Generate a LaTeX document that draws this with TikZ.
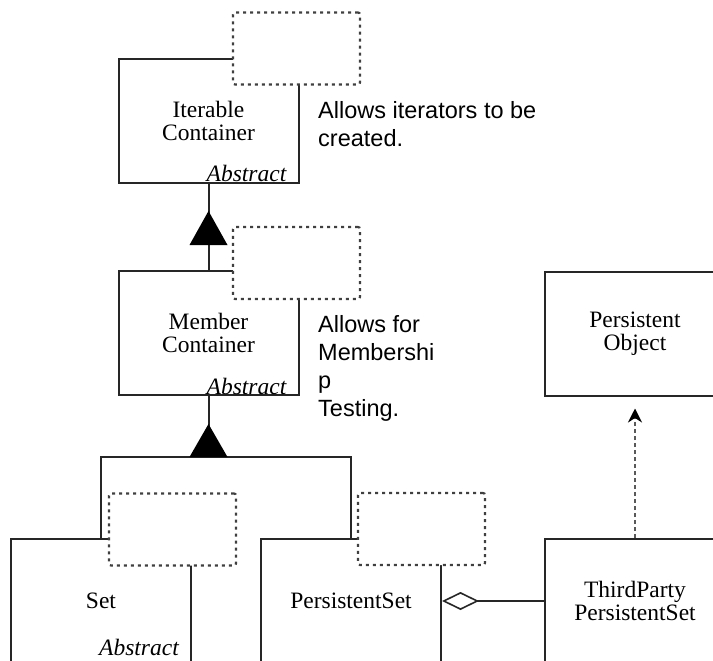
\documentclass[tikz,border=0pt]{standalone}
\usepackage{fontspec}
\setmainfont{Liberation Serif}
\newfontfamily\notefont{Liberation Sans}
\usetikzlibrary{arrows.meta,calc}
\begin{document}
\begin{tikzpicture}[x=1pt,y=-1pt,
  classbox/.style={draw=black!85,line width=2pt,fill=white,rectangle,
    minimum width=180pt,minimum height=124pt,align=center,inner sep=0pt,
    font=\fontsize{23.5}{23}\selectfont},
  tmplbox/.style={draw=black!75,line width=2.2pt,fill=white,rectangle,
    dash pattern=on 3pt off 4pt,rounded corners=2pt,
    minimum width=127pt,minimum height=72pt},
  abstag/.style={anchor=base east,inner sep=0pt,
    font=\fontsize{23.5}{23}\selectfont\itshape},
  notetext/.style={anchor=north west,align=left,inner sep=0pt,
    font=\notefont\fontsize{23.5}{28}\selectfont},
  conn/.style={draw=black!85,line width=2pt},
  genhead/.style={fill=black}
]
\useasboundingbox (0,0) rectangle (713,661);
\clip (0,0) rectangle (713,661);

% class boxes
\node[classbox] (itc) at (208.5,121)   {Iterable\\Container};
\node[classbox] (mc)  at (208.5,333)   {Member\\Container};
\node[classbox] (setc) at (101,601)    {Set};
\node[classbox] (psc) at (351,601)     {PersistentSet};
\node[classbox] (tp)  at (635,601)     {ThirdParty\\PersistentSet};
\node[classbox] (po)  at (635,333.5)   {Persistent\\Object};

% template parameter boxes
\node[tmplbox] (itt)  at (296.5,48.5) {};
\node[tmplbox] (mct)  at (296.5,263)  {};
\node[tmplbox] (sett) at (172.5,529.5) {};
\node[tmplbox] (pst)  at (421.5,529)  {};

% abstract markers
\node[abstag] (ita) at ([xshift=-13pt,yshift=2pt]itc.south east) {Abstract};
\node[abstag] (mca) at ([xshift=-13pt,yshift=2pt]mc.south east) {Abstract};
\node[abstag] (seta) at ([xshift=-13pt,yshift=9pt]setc.south east) {Abstract};

% notes
\node[notetext] (n1) at (318,101) {Allows iterators to be\\created.};
\node[notetext] (n2) at (318,315) {Allows for\\Membershi\\p\\Testing.};

% generalisation: Member Container -> Iterable Container
\draw[conn] (mc.north) -- (itc.south);
\fill[genhead] ($(itc.south)+(0,27)$) -- ++(-19,34) -- ++(38,0) -- cycle;

% generalisation: Set, PersistentSet -> Member Container
\coordinate (bar) at (208.5,457);
\draw[conn] (mc.south) -- (bar);
\draw[conn] (setc.north) |- (bar) -| (psc.north);
\fill[genhead] ($(bar)+(0,-33)$) -- ++(-19,33) -- ++(38,0) -- cycle;

% aggregation
\draw[conn,{Diamond[open,length=37pt,width=18pt,line width=1.6pt]}-] (psc.east) -- (tp.west);

% dependency
\draw[draw=black!65,line width=2pt,dash pattern=on 4pt off 3pt,
  -{Stealth[length=14pt,width=14pt,fill=black,color=black]},shorten >=12pt]
  (tp.north) -- (po.south);
\end{tikzpicture}
\end{document}
